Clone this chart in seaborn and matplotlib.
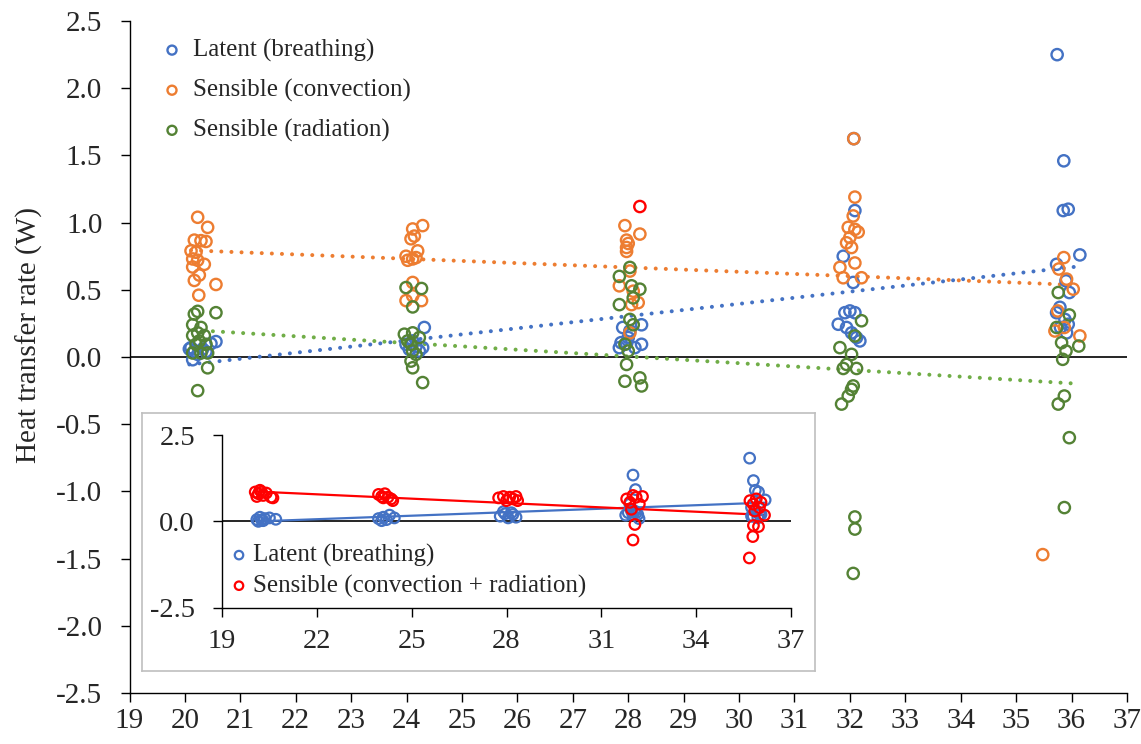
import numpy as np
import seaborn as sns
import matplotlib.pyplot as plt

# ---- main chart: heat transfer components (W) vs temperature ----
latent_x = [20.56, 20.47, 20.08, 20.17, 20.32, 20.38, 20.23, 20.14, 20.11,
            24.32, 23.99, 24.17, 24.29, 24.05, 24.23, 24.11,
            28.24, 27.90, 28.03, 27.87, 27.97, 28.24, 28.12, 27.84, 28.00,
            32.07, 32.09, 31.88, 32.06, 31.91, 32.00, 32.09, 31.79, 31.94, 32.18, 32.12, 32.03,
            35.74, 35.86, 35.85, 35.94, 36.15, 35.73, 35.90, 35.96, 35.79, 35.73, 35.94, 35.91, 35.88, 35.80]
latent_y = [0.115, 0.10, 0.06, 0.045, 0.06, 0.04, 0.02, -0.02, 0.07,
            0.22, 0.095, 0.08, 0.07, 0.057, 0.045, 0.12,
            0.24, 0.22, 0.195, 0.107, 0.10, 0.095, 0.07, 0.07, 0.145,
            1.625, 1.09, 0.75, 0.555, 0.33, 0.343, 0.33, 0.244, 0.22, 0.12, 0.145, 0.18,
            2.25, 1.46, 1.09, 1.10, 0.76, 0.69, 0.567, 0.48, 0.37, 0.33, 0.244, 0.18, 0.28, 0.22]

conv_x = [20.23, 20.41, 20.17, 20.29, 20.38, 20.11, 20.20, 20.14, 20.23, 20.35, 20.14, 20.26, 20.17, 20.56, 20.25,
          24.29, 24.11, 24.14, 24.08, 24.20, 23.99, 24.11, 24.02, 24.17, 24.11, 23.99, 24.27, 24.11,
          27.94, 28.21, 27.97, 28.00, 27.97, 27.97, 28.03, 27.84, 28.09, 28.18, 28.06, 28.03,
          32.07, 32.09, 32.06, 31.97, 32.09, 32.15, 32.00, 31.94, 32.03, 32.09, 31.82, 31.88, 32.21,
          35.86, 35.77, 35.91, 36.03, 35.75, 35.87, 35.70, 36.15, 35.48]
conv_y = [1.04, 0.965, 0.87, 0.866, 0.86, 0.79, 0.78, 0.73, 0.72, 0.69, 0.67, 0.61, 0.57, 0.54, 0.46,
          0.978, 0.953, 0.90, 0.88, 0.79, 0.75, 0.73, 0.72, 0.74, 0.555, 0.42, 0.42, 0.455,
          0.978, 0.915, 0.87, 0.845, 0.815, 0.786, 0.64, 0.53, 0.49, 0.405, 0.39, 0.18,
          1.625, 1.19, 1.05, 0.965, 0.95, 0.93, 0.89, 0.85, 0.815, 0.70, 0.667, 0.59, 0.59,
          0.74, 0.655, 0.58, 0.505, 0.343, 0.22, 0.194, 0.157, -1.47]

rad_x = [20.23, 20.17, 20.56, 20.14, 20.29, 20.23, 20.14, 20.35, 20.26, 20.20, 20.38, 20.14, 20.29, 20.41, 20.41, 20.23,
         23.99, 24.27, 24.11, 23.96, 24.11, 24.02, 24.23, 24.08, 24.11, 24.17, 24.08, 24.11, 24.29,
         28.03, 27.84, 28.06, 28.21, 28.09, 27.84, 28.03, 28.09, 27.94, 28.00, 27.97, 27.94, 28.21, 28.24,
         32.21, 32.09, 31.82, 32.03, 31.94, 32.12, 31.88, 32.06, 32.03, 31.97, 31.85, 32.09, 32.09, 32.06,
         35.76, 35.96, 35.73, 35.82, 36.13, 35.90, 35.84, 35.87, 35.76, 35.96, 35.87]
rad_y = [0.34, 0.32, 0.33, 0.24, 0.22, 0.18, 0.16, 0.16, 0.12, 0.095, 0.095, 0.03, 0.03, 0.03, -0.08, -0.25,
         0.517, 0.51, 0.373, 0.17, 0.18, 0.12, 0.145, 0.095, 0.045, 0.02, -0.03, -0.08, -0.19,
         0.667, 0.60, 0.53, 0.505, 0.44, 0.39, 0.28, 0.24, 0.095, 0.045, -0.055, -0.18, -0.155, -0.215,
         0.27, 0.157, 0.07, 0.02, -0.055, -0.085, -0.085, -0.215, -0.24, -0.29, -0.35, -1.19, -1.28, -1.61,
         0.48, 0.313, 0.22, 0.107, 0.082, 0.045, -0.017, -0.29, -0.35, -0.60, -1.12]

# single red point that shows up in the main chart
stray_x = [28.21]
stray_y = [1.12]

# ---- inset: latent vs total sensible ----
in_latent_x = [20.10, 20.20, 20.30, 20.35, 20.50, 20.70, 20.15, 20.25,
               23.95, 24.10, 24.20, 24.30, 24.45, 24.05,
               27.80, 27.95, 28.05, 28.20, 28.30, 27.90, 28.15,
               32.00, 32.08, 31.77, 32.19, 31.90, 32.05, 32.10, 31.95, 31.85, 32.15, 32.00,
               35.69, 35.81, 35.87, 35.97, 36.18, 35.75, 35.90, 35.80, 36.00, 35.90, 36.05, 35.75, 35.95]
in_latent_y = [0.05, 0.12, 0.02, 0.08, 0.10, 0.06, 0.00, 0.04,
               0.08, 0.12, 0.05, 0.18, 0.10, 0.02,
               0.15, 0.22, 0.10, 0.20, 0.12, 0.28, 0.25,
               1.34, 0.92, 0.18, 0.08, 0.50, 0.30, 0.25, 0.30, 0.25, 0.20, 0.20,
               1.83, 1.18, 0.90, 0.85, 0.62, 0.40, 0.30, 0.15, 0.20, 0.30, 0.20, 0.15, 0.10]

in_sens_x = [20.05, 20.15, 20.20, 20.30, 20.40, 20.55, 20.61, 20.10, 20.25,
             23.95, 24.05, 24.15, 24.25, 24.35, 24.40, 24.10,
             27.75, 27.90, 28.00, 28.10, 28.20, 28.30, 28.35,
             31.80, 31.90, 32.00, 32.10, 32.20, 32.30, 31.95, 32.06, 32.00,
             35.70, 35.80, 35.90, 36.00, 35.85, 36.05, 36.16, 35.81, 35.97, 35.79, 35.68]
in_sens_y = [0.85, 0.80, 0.90, 0.75, 0.82, 0.70, 0.68, 0.72, 0.85,
             0.78, 0.72, 0.80, 0.70, 0.65, 0.60, 0.68,
             0.68, 0.72, 0.60, 0.70, 0.65, 0.72, 0.60,
             0.65, 0.55, 0.75, 0.70, 0.50, 0.72, 0.35, -0.09, -0.54,
             0.60, 0.50, 0.65, 0.40, 0.30, 0.55, 0.18, -0.12, -0.15, -0.44, -1.06]

BLUE = '#4472C4'
ORANGE = '#ED7D31'
GREEN = '#548235'
GREEN_LINE = '#70AD47'
RED = '#FF0000'

sns.set_style("ticks")
plt.rcParams['font.family'] = ['Liberation Serif', 'DejaVu Serif']
plt.rcParams['axes.unicode_minus'] = False

fig = plt.figure(figsize=(11.41, 7.44), dpi=100)
ax = fig.add_axes([0.1135, 0.0685, 0.8742, 0.9032])

dotted = dict(ls=(0, (0.01, 2.5)), lw=2.9, dash_capstyle='round', zorder=2)
main_series = [
    (latent_x, latent_y, BLUE, BLUE, 'Latent (breathing)'),
    (conv_x, conv_y, ORANGE, ORANGE, 'Sensible (convection)'),
    (rad_x, rad_y, GREEN, GREEN_LINE, 'Sensible (radiation)'),
]
for xs, ys, c, lc, lab in main_series:
    sns.regplot(x=xs, y=ys, ax=ax, ci=None, scatter=False, truncate=True,
                color=lc, line_kws=dotted)
for xs, ys, c, lc, lab in main_series:
    sns.scatterplot(x=xs, y=ys, ax=ax, s=66, marker='o', color=c,
                    facecolor='none', edgecolor=c, linewidth=1.7,
                    label=lab, zorder=3)
sns.scatterplot(x=stray_x, y=stray_y, ax=ax, s=66, marker='o', color=RED,
                facecolor='none', edgecolor=RED, linewidth=1.7,
                legend=False, zorder=3)

ax.axhline(0, color='black', lw=1.2, zorder=1)
ax.set_xlim(19, 37)
ax.set_ylim(-2.5, 2.5)
ax.set_xticks(range(19, 38))
ax.set_yticks(np.arange(-2.5, 2.51, 0.5))
ax.yaxis.set_major_formatter('{x:.1f}')
ax.tick_params(axis='both', labelsize=21, length=6.5, width=1, color='black')
ax.tick_params(axis='y', pad=13)
ax.tick_params(axis='x', pad=4)
for sp in ['left', 'bottom']:
    ax.spines[sp].set_color('black')
    ax.spines[sp].set_linewidth(1)
sns.despine(ax=ax)
ax.set_ylabel('Heat transfer rate (W)', fontsize=21)
ax.yaxis.set_label_coords(-0.087, 0.533)

ax.legend(loc='upper left', bbox_to_anchor=(162 / 1141, 1 - 39 / 744),
          bbox_transform=fig.transFigure, frameon=False, fontsize=18,
          handlelength=0.8, handletextpad=0.44, labelspacing=0.68,
          borderpad=0, borderaxespad=0, markerscale=0.8)

# grey frame around the inset
box = fig.add_axes([0.1242, 0.0981, 0.590, 0.3468])
box.set_xticks([])
box.set_yticks([])
box.set_facecolor('white')
for sp in box.spines.values():
    sp.set_color('#BFBFBF')
    sp.set_linewidth(1.2)

axi = fig.add_axes([0.1946, 0.1832, 0.4987, 0.2321])
axi.patch.set_alpha(0)
inset_series = [
    (in_latent_x, in_latent_y, BLUE, 'Latent (breathing)'),
    (in_sens_x, in_sens_y, RED, 'Sensible (convection + radiation)'),
]
for xs, ys, c, lab in inset_series:
    sns.regplot(x=xs, y=ys, ax=axi, ci=None, scatter=False, truncate=True,
                color=c, line_kws=dict(lw=1.6, zorder=2))
for xs, ys, c, lab in inset_series:
    sns.scatterplot(x=xs, y=ys, ax=axi, s=58, marker='o', color=c,
                    facecolor='none', edgecolor=c, linewidth=1.6,
                    label=lab, zorder=3)
axi.axhline(0, color='black', lw=1.2, zorder=1)
axi.set_xlim(19, 37)
axi.set_ylim(-2.5, 2.5)
axi.set_xticks(range(19, 38, 3))
axi.set_yticks([-2.5, 0, 2.5])
axi.yaxis.set_major_formatter('{x:.1f}')
axi.tick_params(axis='both', labelsize=20.5, length=6.5, width=1, color='black')
axi.tick_params(axis='y', pad=13)
axi.tick_params(axis='x', pad=9)
for sp in ['left', 'bottom']:
    axi.spines[sp].set_color('black')
    axi.spines[sp].set_linewidth(1)
sns.despine(ax=axi)
axi.set_xlabel('')
axi.set_ylabel('')
axi.legend(loc='upper left', bbox_to_anchor=(229 / 1141, 1 - 544 / 744),
           bbox_transform=fig.transFigure, frameon=False, fontsize=18,
           handlelength=0.8, handletextpad=0.16, labelspacing=0.3,
           borderpad=0, borderaxespad=0, markerscale=0.8)

plt.savefig('out.png', dpi=100)
